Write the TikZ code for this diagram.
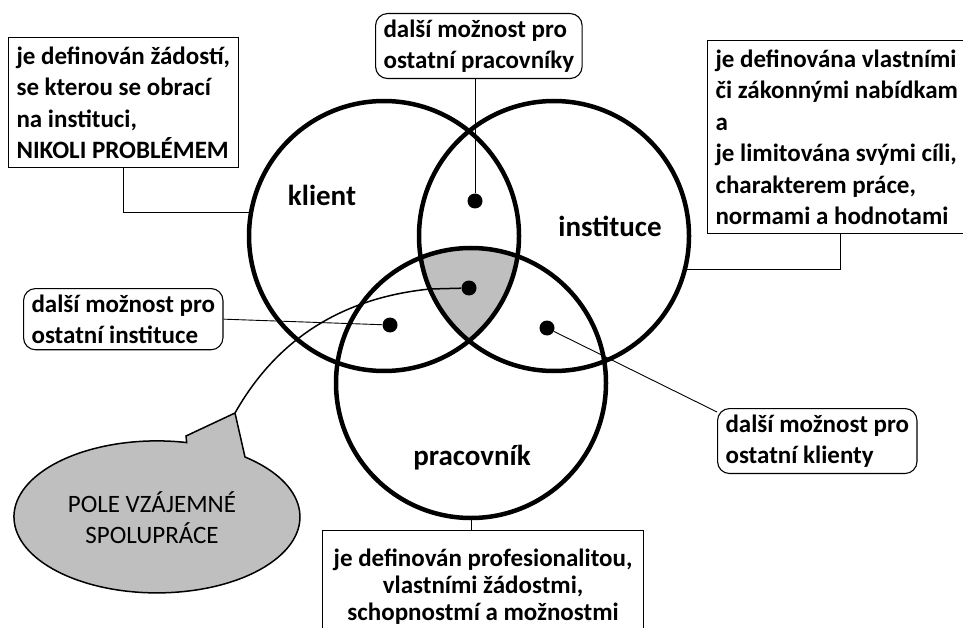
\documentclass[tikz,border=0pt]{standalone}
\usepackage{fontspec}
\setmainfont{Carlito}

\begin{document}
\begin{tikzpicture}[x=1pt, y=-1pt, thick,
        venn/.style={circle, draw, line width=4.5pt, minimum size=270pt, inner sep=0pt},
        bod/.style={circle, fill=black, inner sep=0pt, minimum size=15pt},
        popis/.style={draw, line width=1.1pt, anchor=north west, align=flush left, inner xsep=8pt, inner ysep=9pt, font=\bfseries\fontsize{25}{31.5}\selectfont},
        zaobl/.style={popis, rounded corners=12pt, inner ysep=6pt},
        nazev/.style={font=\bfseries\fontsize{29}{32}\selectfont},
        spoj/.style={line width=0.9pt}]
        \useasboundingbox (0,0) rectangle (963,628);

        % šedé pole - průnik všech tří kruhů
        \begin{scope}
            \clip (384,236) circle [radius=135];
            \clip (554,236) circle [radius=135];
            \fill[black!25] (471,383) circle [radius=135];
        \end{scope}

        % tři kruhy a jejich názvy
        \node[venn] (klient) at (384,236) {};
        \node[venn] (inst) at (554,236) {};
        \node[venn] (prac) at (471,383) {};
        \node[nazev] (tklient) at (322,195) {klient};
        \node[nazev] (tinst) at (610,226) {instituce};
        \node[nazev] (tprac) at (472,458) {pracovník};

        % body v průnicích
        \node[bod] (dhore) at (475,201) {};
        \node[bod] (dstred) at (469,288) {};
        \node[bod] (dlevy) at (390,325) {};
        \node[bod] (dpravy) at (547,328) {};

        % popisky
        \node[popis] (pklient) at (8,37) {je definován žádostí,\\se kterou se obrací\\na instituci,\\NIKOLI PROBLÉMEM};
        \node[zaobl] (pprac) at (375,13) {další možnost pro\\ostatní pracovníky};
        \node[popis, text width=250pt] (pinst) at (707,40) {je definována vlastními\\či zákonnými nabídkam\\a\\je limitována svými cíli,\\charakterem práce,\\normami a hodnotami};
        \node[zaobl] (pinstit) at (23,288) {další možnost pro\\ostatní instituce};
        \node[zaobl] (pklienty) at (717,408) {další možnost pro\\ostatní klienty};
        \node[popis, align=flush center, text width=305pt, minimum height=112pt, font=\bfseries\fontsize{25}{27}\selectfont] (ppracovnik) at (322,530) {je definován profesionalitou,\\vlastními žádostmi,\\schopnostmí a možnostmi};

        % spojnice
        \draw[spoj] (pklient.south) |- (klient.170);
        \draw[spoj] (pprac.south -| dhore) -- (dhore);
        \draw[spoj] (pinst.south) |- (inst.-14);
        \draw[spoj] (pinstit.east) -- (dlevy);
        \draw[spoj] (dpravy) -- ([yshift=-4pt]pklienty.north west);
        \draw[spoj] (prac.south) -- (prac.south |- ppracovnik.north);

        % bublina s polem vzájemné spolupráce
        \coordinate (spicka) at (235,413);
        \filldraw[fill=black!25, line width=1.5pt] (186,436) -- (spicka) -- (245,457)
            arc[start angle=-52, end angle=282, x radius=143, y radius=76] -- cycle;
        \node[align=center, font=\fontsize{25}{31}\selectfont] (pole) at (152,518) {POLE VZÁJEMNÉ\\SPOLUPRÁCE};
        \draw[line width=1.5pt] (spicka) .. controls (265,360) and (320,300) .. (430,289) -- (dstred);
    \end{tikzpicture}
\end{document}
